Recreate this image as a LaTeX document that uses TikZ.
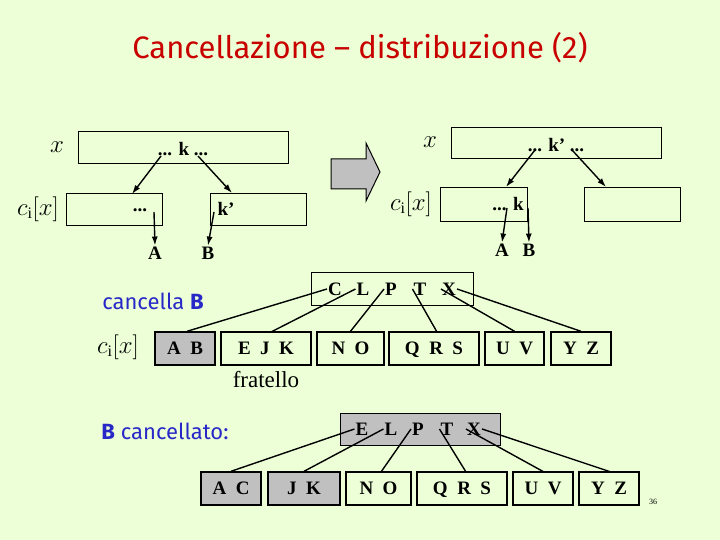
\documentclass[tikz,border=0pt]{standalone}
\usepackage{fontspec}
\setmainfont{Liberation Serif}
\newfontfamily\comicfont{Fira Sans}
\usetikzlibrary{arrows.meta}
\definecolor{slidebg}{RGB}{236,255,214}
\definecolor{titlered}{RGB}{200,0,0}
\definecolor{textblue}{RGB}{40,40,200}
\definecolor{boxgrey}{RGB}{192,192,192}

\begin{document}
\begin{tikzpicture}[
  x=1pt, y=-1pt,
  keybox/.style={draw, line width=1.4pt, anchor=north west, inner sep=0pt},
  leaf/.style={draw, line width=1.4pt, inner sep=0pt, text height=13pt, text depth=1pt,
    font=\bfseries\fontsize{19}{19}\selectfont},
  key/.style={font=\bfseries\fontsize{19}{19}\selectfont, inner sep=1pt},
  lbl/.style={font=\fontsize{23}{23}\selectfont},
  ptr/.style={line width=1.4pt, -{Latex[length=9pt,width=6pt]}},
  edge/.style={line width=1.4pt},
  ]
  \fill [slidebg] (0,0) rectangle (720,540);
  \useasboundingbox (0,0) rectangle (720,540);
  \node [titlered, font=\comicfont\fontsize{31}{31}\selectfont] (title) at (360,48)
  {Cancellazione – distribuzione (2)};

  % prima
  \node [keybox, minimum width=210pt, minimum height=32pt] (xl) at (78,131) {};
  \node [lbl] (xlabl) at (57,147) {$x$};
  \node [key] (kl) at (183,149) {... k ...};
  \node [keybox, minimum width=96pt, minimum height=32pt] (cl) at (66,193) {};
  \node [keybox, minimum width=96pt, minimum height=32pt] (sl) at (210,193) {};
  \node [lbl] (cilbl) at (38,209) {$c_{\mathrm{i}}[x]$};
  \node [key] (dotsl) at (140,210) {...};
  \node [key] (kpl) at (226,209) {k'};
  \node [key] (al) at (155,253) {A};
  \node [key] (bl) at (208,253) {B};
  \coordinate (kl1) at (161,156);
  \coordinate (kl2) at (198,156);
  \draw [ptr] (kl1) -- (132,194);
  \draw [ptr] (kl2) -- (232,193);
  \draw [ptr] (154,212) -- (al.north);
  \draw [ptr] (214,212) -- (bl.north);

  % freccia
  \draw [fill=boxgrey, line width=1pt] (331,159) -- (366,159) -- (366,143) -- (380,172)
    -- (366,201) -- (366,189) -- (331,189) -- cycle;

  % dopo
  \node [keybox, minimum width=210pt, minimum height=31pt] (xr) at (451,127) {};
  \node [lbl] (xlabr) at (430,142) {$x$};
  \node [key] (kr) at (556,145) {... k' ...};
  \node [keybox, minimum width=87pt, minimum height=34pt] (cr) at (440,187) {};
  \node [keybox, minimum width=96pt, minimum height=34pt] (sr) at (584,187) {};
  \node [lbl] (cilbr) at (411,204) {$c_{\mathrm{i}}[x]$};
  \node [key] (kk) at (508,204) {... k};
  \node [key] (ar) at (502,250) {A};
  \node [key] (br) at (529,250) {B};
  \draw [ptr] (535,150) -- (506,187);
  \draw [ptr] (572,150) -- (606,187);
  \draw [ptr] (507,208) -- (ar.north);
  \draw [ptr] (528,208) -- (br.north);

  % cancella B
  \node [textblue, font=\comicfont\fontsize{22}{22}\selectfont] (canc) at (153,301)
  {cancella \textbf{B}};
  \node [lbl] (cib) at (118,347) {$c_{\mathrm{i}}[x]$};
  \node [keybox, minimum width=162pt, minimum height=33pt] (top1) at (311,272) {};
  \foreach \name/\px in {C/335, L/363, P/391, T/420, X/449}
    \node [key] (t1\name) at (\px,289) {\name};
  \foreach \name/\xa/\xb/\txt/\fl in {ab/155/215/{A\ \ B}/boxgrey, ejk/221/311/{E\ \ J\ \ K}/slidebg,
      no/317/384/{N\ \ O}/slidebg, qrs/389/479/{Q\ \ R\ \ S}/slidebg,
      uv/485/544/{U\ \ V}/slidebg, yz/551/611/{Y\ \ Z}/slidebg}
    \node [leaf, fill=\fl, minimum width={\xb-\xa}, minimum height=33pt] (c1\name)
    at ({(\xa+\xb)/2},348.5) {\txt};
  \node [font=\fontsize{23}{23}\selectfont] (frat) at (266,380) {fratello};
  \draw [edge] (t1C.west) -- ([xshift=2pt]c1ab.north);
  \draw [edge] (t1L.west) -- (271,332);
  \draw [edge] (t1P.west) -- (c1no.north);
  \draw [edge] (t1T.west) -- (437,332);
  \draw [edge] (t1X.west) -- (c1uv.north);
  \draw [edge] (t1X.east) -- (c1yz.north);

  % B cancellato
  \node [textblue, font=\comicfont\fontsize{22}{22}\selectfont] (cancd) at (165,431)
  {\textbf{B} cancellato:};
  \node [keybox, fill=boxgrey, minimum width=160pt, minimum height=32pt] (top2) at (340,413) {};
  \foreach \name/\px in {E/362, L/391, P/418, T/447, X/474}
    \node [key] (t2\name) at (\px,429) {\name};
  \foreach \name/\xa/\xb/\txt/\fl in {ac/201/261/{A\ \ C}/boxgrey, jk/268/340/{J\ \ K}/boxgrey,
      no/346/411/{N\ \ O}/slidebg, qrs/417/507/{Q\ \ R\ \ S}/slidebg,
      uv/513/573/{U\ \ V}/slidebg, yz/579/639/{Y\ \ Z}/slidebg}
    \node [leaf, fill=\fl, minimum width={\xb-\xa}, minimum height=33pt] (c2\name)
    at ({(\xa+\xb)/2},488.5) {\txt};
  \draw [edge] (t2E.west) -- (c2ac.north);
  \draw [edge] (t2L.west) -- (c2jk.north);
  \draw [edge] (t2P.west) -- (381,472);
  \draw [edge] (t2T.west) -- (466,472);
  \draw [edge] (t2X.west) -- (544,472);
  \draw [edge] (t2X.east) -- (611,472);
  \node [font=\fontsize{8}{8}\selectfont] (pg) at (653,502) {36};
\end{tikzpicture}
\end{document}
